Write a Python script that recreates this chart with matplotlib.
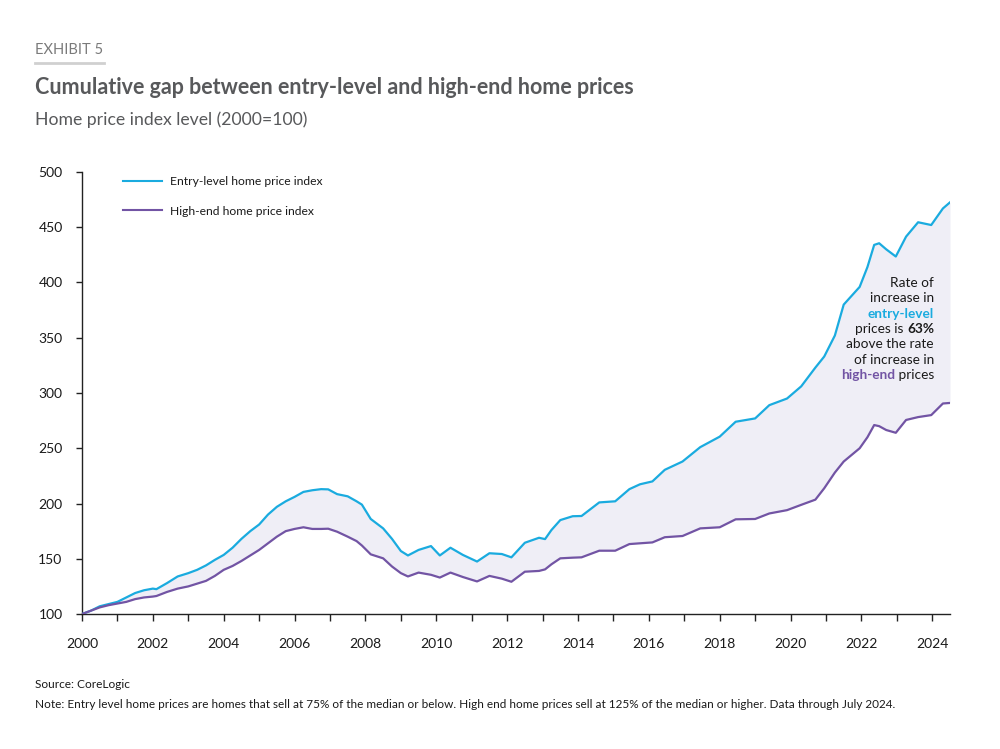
import matplotlib
matplotlib.use("Agg")
import matplotlib.pyplot as plt
from matplotlib.lines import Line2D
from matplotlib.ticker import MultipleLocator

plt.rcParams['font.family'] = ['Lato', 'DejaVu Sans']

years = [2000.0, 2000.25, 2000.5, 2000.75, 2001.0, 2001.25, 2001.5, 2001.75, 2002.0, 2002.1,
         2002.4, 2002.7, 2003.0, 2003.25, 2003.5, 2003.75, 2004.0, 2004.25, 2004.5, 2004.75,
         2005.0, 2005.25, 2005.5, 2005.75, 2006.0, 2006.25, 2006.5, 2006.75, 2006.95, 2007.2,
         2007.5, 2007.75, 2007.9, 2008.15, 2008.5, 2008.75, 2009.0, 2009.2, 2009.5, 2009.85,
         2010.1, 2010.4, 2010.75, 2011.15, 2011.5, 2011.85, 2012.12, 2012.5, 2012.9, 2013.07,
         2013.25, 2013.5, 2013.85, 2014.1, 2014.6, 2015.05, 2015.45, 2015.75, 2016.1, 2016.45,
         2016.95, 2017.45, 2018.0, 2018.45, 2019.0, 2019.4, 2019.9, 2020.3, 2020.7, 2020.95,
         2021.25, 2021.5, 2021.95, 2022.17, 2022.36, 2022.5, 2022.7, 2022.97, 2023.26, 2023.6,
         2023.97, 2024.3, 2024.5]

entry_level = [100, 103, 107, 109, 111, 115, 119, 121.5, 123, 122.5,
               128, 134, 137, 140, 144, 149, 153.5, 160, 168, 175,
               181, 190, 197, 202, 206, 210.5, 212, 213, 212.8, 208.5,
               206.5, 202, 199, 186, 177.5, 168, 157, 153, 158, 161.5,
               153, 160, 153.5, 147.5, 155, 154.3, 151.3, 164.5, 169, 167.8,
               176, 185, 188.5, 188.7, 201, 202, 213, 217.4, 220, 230.5,
               238, 251, 260.5, 274, 277, 289, 295, 306, 323, 333,
               352, 380, 396, 414, 434, 435.5, 430, 423.5, 441.5, 454.5,
               452, 467, 472.5]

high_end = [100, 103, 106, 108, 109.5, 111, 113.5, 115, 115.8, 116.3,
            120, 123, 125, 127.5, 130, 134.5, 140, 143.5, 148, 153,
            158, 164, 170, 175, 177, 178.5, 177, 177, 177.2, 174.5,
            170, 166, 162, 154, 150.4, 143, 137, 134, 137.5, 135.5,
            133, 137.5, 133.5, 129.5, 134.5, 132, 129.2, 138.3, 139, 140.4,
            145, 150.4, 151, 151.3, 157.3, 157.3, 163.3, 164, 164.8, 169.5,
            170.6, 177.5, 178.5, 185.7, 186, 191, 194, 198.8, 203.5, 213.8,
            228, 238, 250, 260, 271, 270, 266.5, 264, 275.6, 278.2,
            280, 290.5, 291]

series_names = ["Entry-level home price index", "High-end home price index"]
x_tick_labels = ["2000", "2002", "2004", "2006", "2008", "2010", "2012",
                 "2014", "2016", "2018", "2020", "2022", "2024"]
y_ticks = [100, 150, 200, 250, 300, 350, 400, 450, 500]

C_ENTRY = "#1AABDF"
C_HIGH = "#7254A4"
C_FILL = "#EFEEF6"
C_TITLE = "#58595B"

fig = plt.figure(figsize=(10, 7.49), dpi=100)
ax = fig.add_axes([0.082, 0.1802, 0.868, 0.5902])

ax.fill_between(years, high_end, entry_level, color=C_FILL, lw=0, zorder=1)
ax.plot(years, entry_level, color=C_ENTRY, lw=1.6, zorder=3)
ax.plot(years, high_end, color=C_HIGH, lw=1.6, zorder=3)

ax.set_xlim(2000, 2024.5)
ax.set_ylim(100, 500)
ax.set_yticks(y_ticks)
ax.set_yticklabels([str(v) for v in y_ticks])
ax.set_xticks([int(s) for s in x_tick_labels])
ax.set_xticklabels(x_tick_labels)
ax.xaxis.set_minor_locator(MultipleLocator(1))

for s in ["top", "right"]:
    ax.spines[s].set_visible(False)
for s in ["left", "bottom"]:
    ax.spines[s].set_color("#222222")
    ax.spines[s].set_linewidth(1.0)
ax.tick_params(axis="y", length=4, width=1, color="#222222", pad=10, labelsize=10, labelcolor="#1a1a1a")
ax.tick_params(axis="x", which="both", length=5, width=1, color="#222222", pad=12, labelsize=10, labelcolor="#1a1a1a")

handles = [Line2D([], [], color=C_ENTRY, lw=1.5), Line2D([], [], color=C_HIGH, lw=1.5)]
ax.legend(handles, series_names, loc="upper left", bbox_to_anchor=(0.035, 1.016), frameon=False,
          fontsize=8.7, handlelength=3.2, handletextpad=0.7, labelspacing=1.55, labelcolor="#1a1a1a")

# Titles
fig.text(0.035, 1 - 50 / 749, "EXHIBIT 5", fontsize=10.5, color="#7a7a7a", va="center", ha="left")
fig.add_artist(Line2D([0.035, 0.104], [1 - 63 / 749, 1 - 63 / 749], color="#d0d0d0", lw=2))
fig.text(0.035, 1 - 87 / 749, "Cumulative gap between entry-level and high-end home prices",
         fontsize=15.5, fontweight="bold", color=C_TITLE, va="center", ha="left")
fig.text(0.035, 1 - 120 / 749, "Home price index level (2000=100)",
         fontsize=12.7, color=C_TITLE, va="center", ha="left")

fig.text(0.035, 1 - 684 / 749, "Source: CoreLogic", fontsize=8.6, color="#1a1a1a", va="center", ha="left")
fig.text(0.035, 1 - 704 / 749,
         "Note: Entry level home prices are homes that sell at 75% of the median or below. High end home prices sell at 125% of the median or higher. Data through July 2024.",
         fontsize=8.45, color="#1a1a1a", va="center", ha="left")

# Annotation (right aligned, mixed styles)
fig.canvas.draw()
renderer = fig.canvas.get_renderer()
xr = 934 / 1000
fs = 9.8
lines = [
    [("Rate of", "normal", "#1a1a1a")],
    [("increase in", "normal", "#1a1a1a")],
    [("entry-level", "bold", C_ENTRY)],
    [("prices is ", "normal", "#1a1a1a"), ("63%", "bold", "#1a1a1a")],
    [("above the rate", "normal", "#1a1a1a")],
    [("of increase in", "normal", "#1a1a1a")],
    [("high-end", "bold", C_HIGH), (" prices", "normal", "#1a1a1a")],
]
y0 = 283
dy = 15.3
for i, parts in enumerate(lines):
    y = 1 - (y0 + i * dy) / 749
    xcur = xr
    for txt, wt, col in reversed(parts):
        t = fig.text(xcur, y, txt, fontsize=fs, fontweight=wt, color=col, ha="right", va="center")
        bb = t.get_window_extent(renderer=renderer)
        xcur = bb.x0 / fig.bbox.width

fig.savefig("out.png", dpi=100)
